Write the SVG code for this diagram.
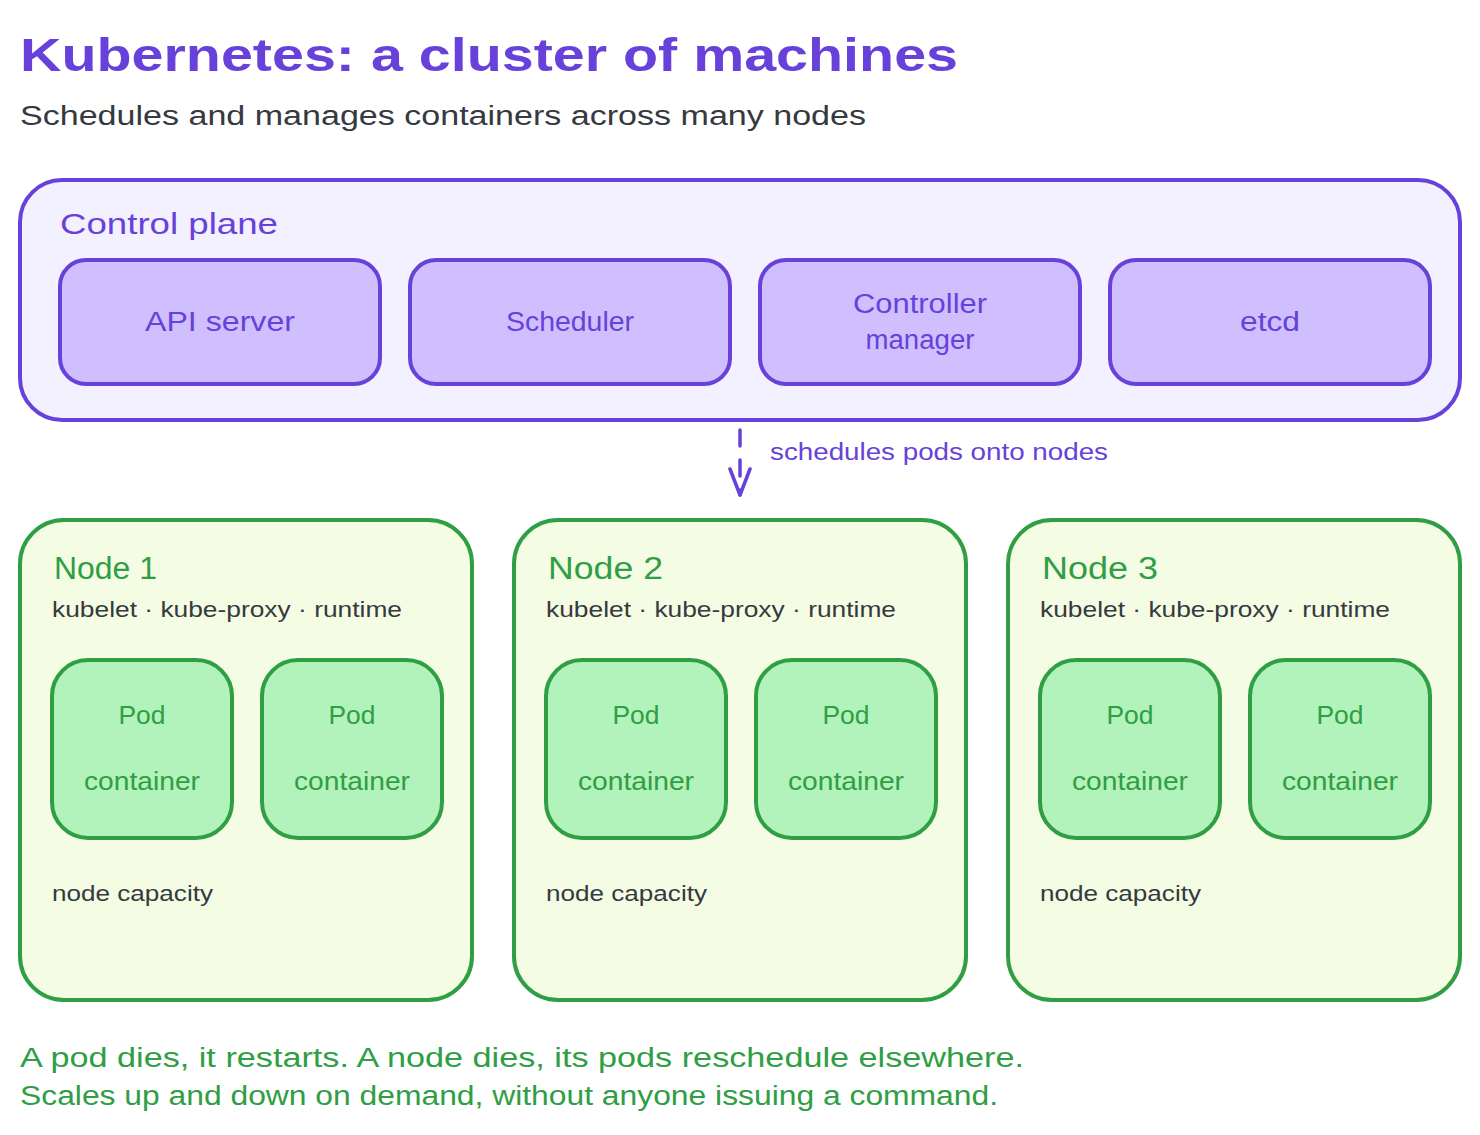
<svg xmlns="http://www.w3.org/2000/svg" width="1480" height="1135" viewBox="0 0 1480 1135">
<defs>
<style>
text{font-family:"Liberation Sans","DejaVu Sans",sans-serif;}
.title{font-size:46px;fill:#6741d9;font-weight:bold;}
.sub{font-size:27px;fill:#343a40;}
.cp{fill:#f3f0ff;stroke:#6741d9;stroke-width:4;}
.cpl{font-size:30px;fill:#6741d9;}
.comp{fill:#d0bfff;stroke:#6741d9;stroke-width:4;}
.compt{font-size:27px;fill:#6741d9;text-anchor:middle;}
.node{fill:#f4fce3;stroke:#2f9e44;stroke-width:4;}
.nodet{font-size:31px;fill:#2f9e44;}
.small{font-size:22px;fill:#343a40;}
.pod{fill:#b2f2bb;stroke:#2f9e44;stroke-width:4;}
.podt{font-size:26px;fill:#2f9e44;text-anchor:middle;}
.foot{font-size:27px;fill:#2f9e44;}
.conn{stroke:#6741d9;stroke-width:3.5;fill:none;stroke-linecap:round;stroke-linejoin:round;}
.lbl{font-size:23px;fill:#6741d9;}
</style>
<marker id="arr" viewBox="0 0 30 24" refX="28" refY="12" markerWidth="30" markerHeight="24" markerUnits="userSpaceOnUse" orient="auto">
<path d="M2 2 L28 12 L2 22" fill="none" stroke="#6741d9" stroke-width="3.5" stroke-linecap="round" stroke-linejoin="round"/>
</marker>
</defs>
<rect width="1480" height="1135" fill="#ffffff"/>

<g id="header">
<text class="title" x="20" y="71" textLength="938" lengthAdjust="spacingAndGlyphs">Kubernetes: a cluster of machines</text>
<text class="sub" x="20" y="125" textLength="846" lengthAdjust="spacingAndGlyphs">Schedules and manages containers across many nodes</text>
</g>

<g id="control-plane">
<rect class="cp" x="20" y="180" width="1440" height="240" rx="42"/>
<text class="cpl" x="60" y="234" textLength="218" lengthAdjust="spacingAndGlyphs">Control plane</text>
</g>
<g id="api-server">
<rect class="comp" x="60" y="260" width="320" height="124" rx="26"/>
<text class="compt" x="220" y="331" textLength="150" lengthAdjust="spacingAndGlyphs">API server</text>
</g>
<g id="scheduler">
<rect class="comp" x="410" y="260" width="320" height="124" rx="26"/>
<text class="compt" x="570" y="331" textLength="128" lengthAdjust="spacingAndGlyphs">Scheduler</text>
</g>
<g id="controller-manager">
<rect class="comp" x="760" y="260" width="320" height="124" rx="26"/>
<text class="compt" x="920" y="313" textLength="134" lengthAdjust="spacingAndGlyphs">Controller</text>
<text class="compt" x="920" y="349" textLength="109" lengthAdjust="spacingAndGlyphs">manager</text>
</g>
<g id="etcd">
<rect class="comp" x="1110" y="260" width="320" height="124" rx="26"/>
<text class="compt" x="1270" y="331" textLength="60" lengthAdjust="spacingAndGlyphs">etcd</text>
</g>

<g id="connectors">
<line class="conn" x1="740" y1="430" x2="740" y2="495" stroke-dasharray="16 14" marker-end="url(#arr)"/>
<text class="lbl" x="770" y="460" textLength="338" lengthAdjust="spacingAndGlyphs">schedules pods onto nodes</text>
</g>

<g id="node-1">
<rect class="node" x="20" y="520" width="452" height="480" rx="44"/>
<text class="nodet" x="54" y="579" textLength="103" lengthAdjust="spacingAndGlyphs">Node 1</text>
<text class="small" x="52" y="617" textLength="350" lengthAdjust="spacingAndGlyphs">kubelet · kube-proxy · runtime</text>
<text class="small" x="52" y="901" textLength="161" lengthAdjust="spacingAndGlyphs">node capacity</text>
</g>
<g id="node-1-pod-1">
<rect class="pod" x="52" y="660" width="180" height="178" rx="36"/>
<text class="podt" x="142" y="724" textLength="47" lengthAdjust="spacingAndGlyphs">Pod</text>
<text class="podt" x="142" y="790" textLength="116" lengthAdjust="spacingAndGlyphs">container</text>
</g>
<g id="node-1-pod-2">
<rect class="pod" x="262" y="660" width="180" height="178" rx="36"/>
<text class="podt" x="352" y="724" textLength="47" lengthAdjust="spacingAndGlyphs">Pod</text>
<text class="podt" x="352" y="790" textLength="116" lengthAdjust="spacingAndGlyphs">container</text>
</g>

<g id="node-2">
<rect class="node" x="514" y="520" width="452" height="480" rx="44"/>
<text class="nodet" x="548" y="579" textLength="115" lengthAdjust="spacingAndGlyphs">Node 2</text>
<text class="small" x="546" y="617" textLength="350" lengthAdjust="spacingAndGlyphs">kubelet · kube-proxy · runtime</text>
<text class="small" x="546" y="901" textLength="161" lengthAdjust="spacingAndGlyphs">node capacity</text>
</g>
<g id="node-2-pod-1">
<rect class="pod" x="546" y="660" width="180" height="178" rx="36"/>
<text class="podt" x="636" y="724" textLength="47" lengthAdjust="spacingAndGlyphs">Pod</text>
<text class="podt" x="636" y="790" textLength="116" lengthAdjust="spacingAndGlyphs">container</text>
</g>
<g id="node-2-pod-2">
<rect class="pod" x="756" y="660" width="180" height="178" rx="36"/>
<text class="podt" x="846" y="724" textLength="47" lengthAdjust="spacingAndGlyphs">Pod</text>
<text class="podt" x="846" y="790" textLength="116" lengthAdjust="spacingAndGlyphs">container</text>
</g>

<g id="node-3">
<rect class="node" x="1008" y="520" width="452" height="480" rx="44"/>
<text class="nodet" x="1042" y="579" textLength="116" lengthAdjust="spacingAndGlyphs">Node 3</text>
<text class="small" x="1040" y="617" textLength="350" lengthAdjust="spacingAndGlyphs">kubelet · kube-proxy · runtime</text>
<text class="small" x="1040" y="901" textLength="161" lengthAdjust="spacingAndGlyphs">node capacity</text>
</g>
<g id="node-3-pod-1">
<rect class="pod" x="1040" y="660" width="180" height="178" rx="36"/>
<text class="podt" x="1130" y="724" textLength="47" lengthAdjust="spacingAndGlyphs">Pod</text>
<text class="podt" x="1130" y="790" textLength="116" lengthAdjust="spacingAndGlyphs">container</text>
</g>
<g id="node-3-pod-2">
<rect class="pod" x="1250" y="660" width="180" height="178" rx="36"/>
<text class="podt" x="1340" y="724" textLength="47" lengthAdjust="spacingAndGlyphs">Pod</text>
<text class="podt" x="1340" y="790" textLength="116" lengthAdjust="spacingAndGlyphs">container</text>
</g>

<g id="footer">
<text class="foot" x="20" y="1067" textLength="1004" lengthAdjust="spacingAndGlyphs">A pod dies, it restarts. A node dies, its pods reschedule elsewhere.</text>
<text class="foot" x="20" y="1105" textLength="978" lengthAdjust="spacingAndGlyphs">Scales up and down on demand, without anyone issuing a command.</text>
</g>
</svg>
